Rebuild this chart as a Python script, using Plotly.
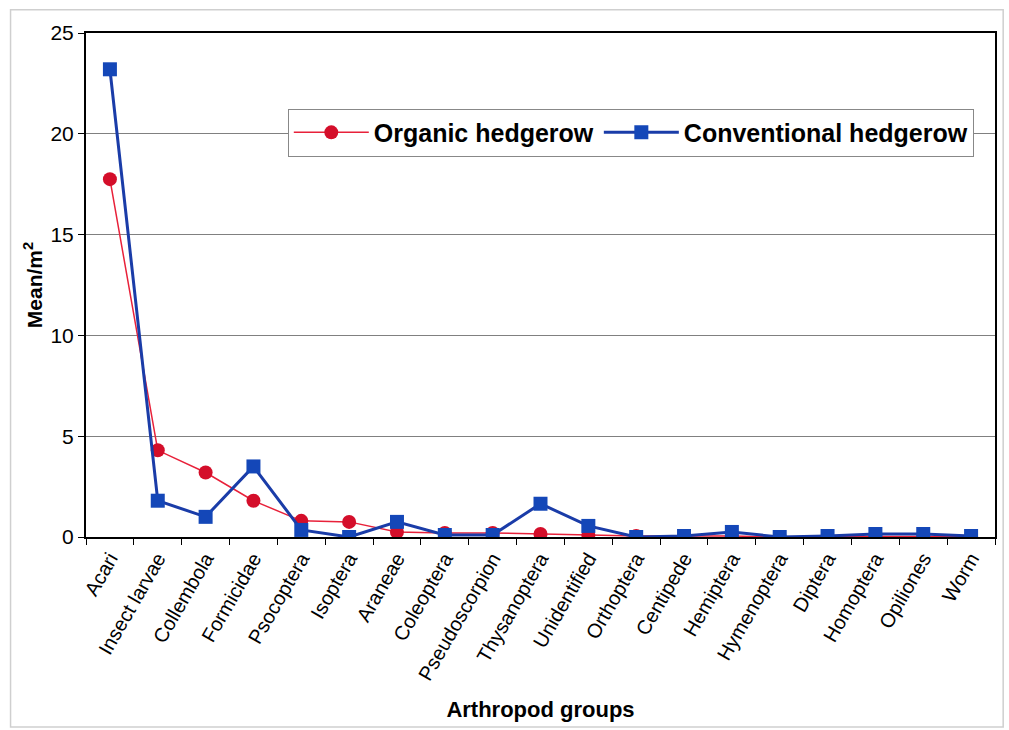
import plotly.graph_objects as go

groups = ["Acari", "Insect larvae", "Collembola", "Formicidae", "Psocoptera", "Isoptera",
          "Araneae", "Coleoptera", "Pseudoscorpion", "Thysanoptera", "Unidentified",
          "Orthoptera", "Centipede", "Hemiptera", "Hymenoptera", "Diptera", "Homoptera",
          "Opiliones", "Worm"]

organic = [17.75, 4.3, 3.2, 1.8, 0.8, 0.75, 0.25, 0.2, 0.2, 0.15, 0.1, 0.05, 0.05,
           0.05, 0.0, 0.02, 0.03, 0.02, 0.02]
conventional = [23.2, 1.8, 1.0, 3.5, 0.35, 0.0, 0.75, 0.1, 0.1, 1.65, 0.55, 0.0, 0.05,
                0.25, 0.0, 0.05, 0.15, 0.15, 0.05]

fig = go.Figure()
fig.add_trace(go.Scatter(
    x=groups, y=organic, name="Organic hedgerow", mode="lines+markers",
    line=dict(color="#e8213a", width=1.5),
    marker=dict(symbol="circle", size=14, color="#d40e2a"),
))
fig.add_trace(go.Scatter(
    x=groups, y=conventional, name="Conventional hedgerow", mode="lines+markers",
    line=dict(color="#1a3ca8", width=3),
    marker=dict(symbol="square", size=14, color="#1447b8"),
))

font = "Liberation Sans, Arial, sans-serif"

fig.update_layout(
    width=1009, height=730,
    margin=dict(l=86, r=12, t=33, b=193),
    paper_bgcolor="white", plot_bgcolor="white",
    font=dict(family=font, color="black", size=18),
    showlegend=True,
    legend=dict(
        orientation="h", x=0.222, y=0.85, xanchor="left", yanchor="top",
        bgcolor="white", bordercolor="#888888", borderwidth=1,
        font=dict(size=25, family=font, color="black", weight="bold"),
        itemwidth=75, tracegroupgap=0,
    ),
    xaxis=dict(
        type="category", range=[-0.5, len(groups) - 0.5],
        tickangle=-60, tickson="boundaries",
        ticks="outside", ticklen=6, tickcolor="black",
        showline=True, linecolor="black", linewidth=2, mirror=True,
        showgrid=False,
        tickfont=dict(size=20, family=font),
        title=dict(text="Arthropod groups", standoff=18,
                   font=dict(size=22, family=font, weight="bold")),
    ),
    yaxis=dict(
        range=[0, 25], dtick=5, ticks="outside", ticklen=6, tickcolor="black",
        showline=True, linecolor="black", linewidth=2, mirror=True,
        showgrid=True, gridcolor="#808080", gridwidth=1,
        zeroline=False,
        tickfont=dict(size=21, family=font),
        title=dict(text="Mean/m<sup>2</sup>", standoff=2,
                   font=dict(size=21, family=font, weight="bold")),
    ),
    shapes=[dict(type="rect", xref="paper", yref="paper",
                 x0=-0.083, x1=1.009, y0=-0.377, y1=1.046,
                 line=dict(color="#cfcfcf", width=1.5))],
)

fig.write_html("out.html")
